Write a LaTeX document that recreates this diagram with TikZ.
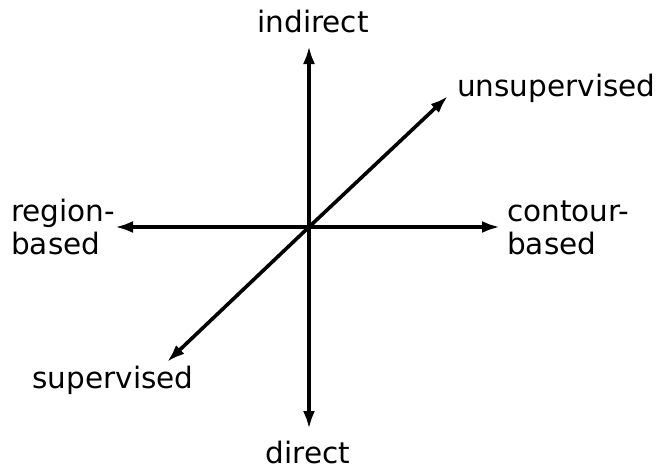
\documentclass[tikz,border=0pt]{standalone}
\usepackage{fontspec}
\setmainfont{DejaVu Sans}
\usetikzlibrary{arrows.meta}
\begin{document}
\begin{tikzpicture}[x=1pt,y=-1pt,
  axis/.style={line width=3.6pt,-{Latex[length=18pt,width=12pt]}},
  lbl/.style={inner sep=0pt,font=\fontsize{29.5}{33}\selectfont,align=left}]
\useasboundingbox (0,0) rectangle (659,469);
\coordinate (o) at (309,227);
\coordinate (tu) at (309,46);
\coordinate (td) at (309,429);
\coordinate (tl) at (115,227);
\coordinate (tr) at (500,227);
\coordinate (tur) at (448,96);
\coordinate (tdl) at (167,362);
\draw[axis] (o) -- (tu);
\draw[axis] (o) -- (td);
\draw[axis] (o) -- (tl);
\draw[axis] (o) -- (tr);
\draw[axis] (o) -- (tur);
\draw[axis] (o) -- (tdl);
\node[lbl] (indirect) at (313,21) {indirect};
\node[lbl,anchor=west] (unsup) at (457,88) {unsupervised};
\node[lbl,anchor=west] (region) at (11,227) {region-\\based};
\node[lbl,anchor=west] (contour) at (507,228) {contour-\\based};
\node[lbl] (sup) at (113,380) {supervised};
\node[lbl] (direct) at (308,452) {direct};
\end{tikzpicture}
\end{document}
